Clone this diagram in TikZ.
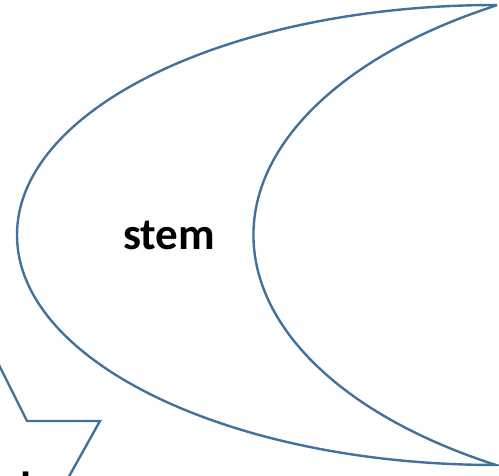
\documentclass[tikz,border=0pt]{standalone}
\usepackage{fontspec}
\setmainfont{Carlito}
\definecolor{shapeline}{HTML}{41719C}
\tikzset{
  outline/.style={draw=shapeline, line width=2.4pt, line join=miter},
  label/.style={font=\bfseries\fontsize{45}{54}\selectfont, text=black, inner sep=0pt}
}
\begin{document}
\begin{tikzpicture}[x=1pt,y=-1pt]
\useasboundingbox (0,0) rectangle (499,476);
% crescent (moon)
\draw[outline] (496,5) arc[start angle=270, end angle=90, x radius=479, y radius=230]
  arc[start angle=121, end angle=239, x radius=500, y radius=268] -- cycle;
\node[label, anchor=base] (stem) at (169,250) {stem};
% partial shape at bottom left
\coordinate (p1) at (-2,363);
\coordinate (p2) at (27,421);
\coordinate (p3) at (100,421);
\coordinate (p4) at (67,480);
\draw[outline] (p1) -- (p2) -- (p3) -- (p4);
% cut-off text at bottom
\node[label, anchor=north] (cut) at (26,472) {l};
\end{tikzpicture}
\end{document}
